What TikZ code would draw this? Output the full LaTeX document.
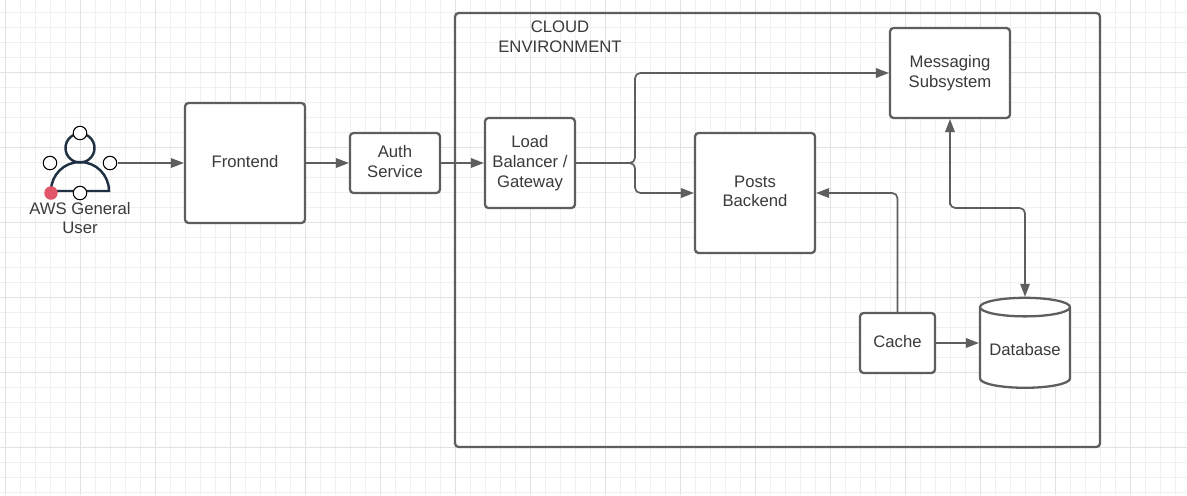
\documentclass[tikz,border=0pt]{standalone}
\usepackage{fontspec}
\setmainfont{Liberation Sans}
\usetikzlibrary{arrows.meta,positioning,shapes.geometric}
\definecolor{linegray}{HTML}{5E5E5E}
\definecolor{textgray}{HTML}{3A3A3A}
\definecolor{gridminor}{HTML}{F0F0F0}
\definecolor{gridmajor}{HTML}{E2E2E2}
\definecolor{usernavy}{HTML}{1F2F44}
\definecolor{handlered}{HTML}{E2566A}

\begin{document}
\begin{tikzpicture}[
  x=0.02cm,y=-0.02cm,
  >={Triangle[length=0.26cm,width=0.19cm]},
  every node/.style={align=center,text=textgray,font=\fontsize{9.5}{11.2}\selectfont},
  box/.style={rectangle,draw=linegray,line width=1.3pt,rounded corners=2pt,fill=white,inner sep=0pt,outer sep=0pt,
    execute at end node={\rule[-1.9pt]{0pt}{1.9pt}}},
  link/.style={->,draw=linegray,line width=0.95pt,rounded corners=3pt,shorten >=0.6pt,shorten <=0.6pt},
  handle/.style={circle,draw=black,line width=0.6pt,fill=white,minimum size=0.27cm,inner sep=0pt},
  redhandle/.style={circle,fill=handlered,minimum size=0.27cm,inner sep=0pt}
]
\useasboundingbox (0,0) rectangle (1187,495);
\fill[white] (0,0) rectangle (1187,495);
% grid
\foreach \x in {5,20,...,1187} \draw[gridminor,line width=0.55pt] (\x,0) -- (\x,495);
\foreach \y in {-3,12,...,495} \draw[gridminor,line width=0.55pt] (0,\y) -- (1187,\y);
\foreach \x in {5,80,...,1187} \draw[gridmajor,line width=0.55pt] (\x,0) -- (\x,495);
\foreach \y in {72,147,...,495} \draw[gridmajor,line width=0.55pt] (0,\y) -- (1187,\y);

\node[box,fill=none,minimum width=12.9cm,minimum height=8.68cm] (cloud) at (777.5,230) {};
\node (cloudlabel) at (560,37) {CLOUD\\ENVIRONMENT};

\node[box,minimum width=2.4cm,minimum height=2.4cm] (frontend) at (245,163) {Frontend};
\node[box,minimum width=1.8cm,minimum height=1.2cm,right=0.9cm of frontend] (auth) {Auth\\Service};
\node[box,minimum width=1.8cm,minimum height=1.8cm,right=0.9cm of auth] (lb) {Load\\Balancer /\\Gateway};
\node[box,minimum width=2.4cm,minimum height=1.8cm] (msg) at (950,73) {Messaging\\Subsystem};
\node[box,minimum width=2.4cm,minimum height=2.4cm] (posts) at (755,193) {Posts\\Backend};
\node[box,minimum width=1.5cm,minimum height=1.2cm] (cache) at (897.5,343) {Cache};
\node[cylinder,shape border rotate=90,aspect=0.26,draw=linegray,line width=1.3pt,fill=white,
  minimum width=1.8cm,minimum height=1.8cm,inner sep=0pt,outer sep=0pt] (db) at (1025,348) {\rule{0pt}{9.1pt}Database};

% user icon
\draw[usernavy,line width=1.4pt] (51,191) arc[start angle=180,end angle=360,radius=29] -- cycle;
\node[circle,draw=usernavy,line width=1.4pt,minimum size=0.58cm,inner sep=0pt] (head) at (80,148) {};
\node[handle] (htop) at (80,133) {};
\node[handle] (hleft) at (50,163) {};
\node[handle] (hright) at (110,163) {};
\node[handle] (hbottom) at (80,193) {};
\node[redhandle] (hred) at (51,193) {};
\node (userlabel) at (80,218) {AWS General\\User};

\coordinate (split) at (635,163);
\coordinate (msgbend) at (950,208);
\draw[link] (hright) -- (frontend);
\draw[link] (frontend) -- (auth);
\draw[link] (auth) -- (lb);
\draw[link] (lb.east) -- (split) |- (msg.west);
\draw[link] (lb.east) -- (split) |- (posts.west);
\draw[link] (cache.north) |- (posts.east);
\draw[link] (cache.east) -- (cache.east -| db.west);
\draw[link,<->] (msg.south) |- (msgbend) -| (db.top);
\end{tikzpicture}
\end{document}
